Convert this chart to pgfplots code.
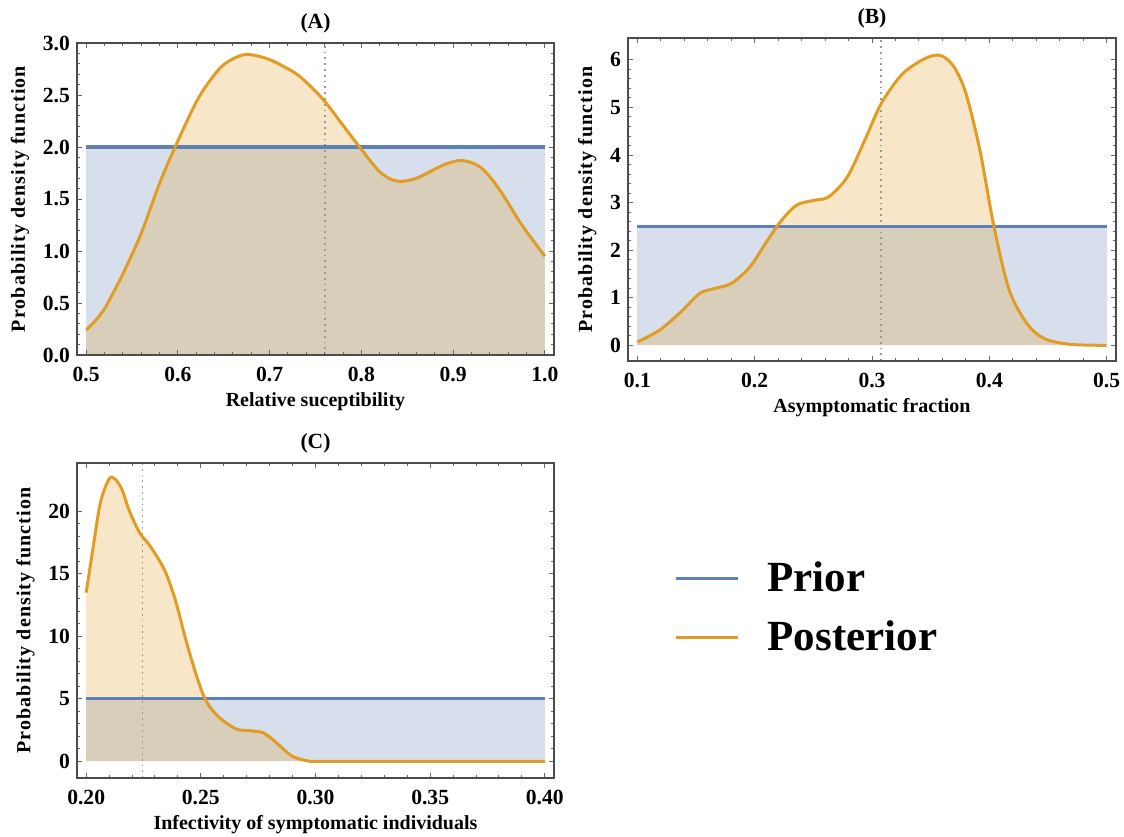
\documentclass[border=0pt]{standalone}
\usepackage{fontspec}
\setmainfont{Liberation Serif}
\newfontfamily\spaced[LetterSpace=5.5]{Liberation Serif}
\usepackage{pgfplots}
\usepackage{pgfplotstable}
\pgfplotsset{compat=1.18}

\definecolor{prior}{RGB}{94,129,181}
\definecolor{post}{RGB}{225,156,36}

\pgfplotsset{
  pdf/.style={
    scale only axis,
    anchor=north west,
    axis on top,
    axis line style={black!70, line width=0.8pt},
    tick align=inside,
    tick style={black!60, line width=0.5pt},
    major tick length=2.6pt,
    minor tick length=1.5pt,
    minor x tick num=4, minor y tick num=4,
    /pgf/number format/assume math mode=true,
    ticklabel style={font=\fontsize{10.8}{12}\selectfont\bfseries},
    xticklabel style={yshift=-2.5pt},
    xlabel style={font=\fontsize{10}{12}\selectfont\bfseries, yshift=1.5pt},
    ylabel style={font=\fontsize{10}{12}\selectfont\spaced\bfseries},
    title style={font=\fontsize{10.8}{12}\selectfont\bfseries, at={(0.5,1)}, anchor=south, yshift=-4.8pt},
    ylabel={Probability density function},
  },
  priorfill/.style={draw=none, fill=prior, fill opacity=0.25, forget plot},
  postfill/.style={draw=none, fill=post, fill opacity=0.25, smooth, forget plot},
  priorline/.style={prior, line width=1.6pt, forget plot},
  postline/.style={post, line width=1.5pt, smooth, forget plot},
  median/.style={black!40, dotted, line width=0.9pt, forget plot},
}

% posterior densities
\pgfplotstableread{
x y
0.500 0.24
0.510 0.33
0.521 0.46
0.540 0.78
0.560 1.17
0.580 1.65
0.600 2.06
0.623 2.48
0.646 2.76
0.663 2.86
0.677 2.89
0.700 2.84
0.728 2.71
0.745 2.58
0.760 2.44
0.779 2.22
0.798 2.00
0.818 1.78
0.832 1.69
0.845 1.67
0.860 1.70
0.872 1.75
0.890 1.83
0.907 1.87
0.920 1.85
0.932 1.79
0.945 1.66
0.958 1.49
0.975 1.25
1.000 0.95
}\postA

\pgfplotstableread{
x y
0.100 0.07
0.119 0.32
0.137 0.70
0.153 1.09
0.165 1.19
0.180 1.30
0.196 1.65
0.211 2.21
0.223 2.63
0.236 2.95
0.251 3.05
0.263 3.12
0.279 3.54
0.294 4.32
0.308 5.09
0.325 5.68
0.340 5.96
0.352 6.09
0.360 6.08
0.370 5.85
0.380 5.30
0.392 4.10
0.404 2.49
0.417 1.16
0.432 0.46
0.447 0.14
0.469 0.02
0.500 0.00
}\postB

\pgfplotstableread{
x y
0.2000 13.5
0.2031 17.2
0.2062 20.7
0.2100 22.6
0.2125 22.6
0.2155 21.8
0.2187 20.1
0.2233 18.3
0.2280 17.2
0.2342 15.3
0.2389 12.9
0.2435 9.7
0.2482 6.8
0.2521 4.9
0.2575 3.6
0.2653 2.6
0.2720 2.45
0.2770 2.3
0.2810 1.8
0.2850 1.15
0.2900 0.4
0.2963 0.05
0.3026 0.0
0.3500 0.0
0.4000 0.0
}\postC

\begin{document}
\begin{tikzpicture}
\useasboundingbox (0,0) rectangle (562pt,-418pt);

% (A)
\begin{axis}[pdf, at={(38.5pt,-21.5pt)}, width=238.5pt, height=156pt,
  title={(A)}, xlabel={Relative suceptibility},
  xmin=0.49, xmax=1.01, ymin=0, ymax=3,
  xtick={0.5,0.6,0.7,0.8,0.9,1.0}, ytick={0,0.5,1,1.5,2,2.5,3},
  xticklabel style={/pgf/number format/.cd, fixed, fixed zerofill, precision=1},
  yticklabel style={/pgf/number format/.cd, fixed, fixed zerofill, precision=1}]
\addplot[priorfill] coordinates {(0.5,2)(1.0,2)} \closedcycle;
\addplot[postfill] table {\postA} \closedcycle;
\addplot[median] coordinates {(0.76,0)(0.76,3)};
\addplot[priorline] coordinates {(0.5,2)(1.0,2)};
\addplot[postline] table {\postA};
\end{axis}

% (B)
\begin{axis}[pdf, at={(314pt,-19pt)}, width=244pt, height=161.5pt,
  title={(B)}, xlabel={Asymptomatic fraction},
  xmin=0.092, xmax=0.508, ymin=-0.33, ymax=6.46,
  xtick={0.1,0.2,0.3,0.4,0.5}, ytick={0,1,2,3,4,5,6},
  xticklabel style={/pgf/number format/.cd, fixed, fixed zerofill, precision=1}]
\addplot[priorfill] coordinates {(0.1,2.5)(0.5,2.5)} \closedcycle;
\addplot[postfill] table {\postB} \closedcycle;
\addplot[median] coordinates {(0.308,-0.33)(0.308,6.46)};
\addplot[priorline] coordinates {(0.1,2.5)(0.5,2.5)};
\addplot[postline] table {\postB};
\end{axis}

% (C)
\begin{axis}[pdf, at={(38.5pt,-231.5pt)}, width=238.5pt, height=157.5pt,
  title={(C)}, xlabel={Infectivity of symptomatic individuals},
  xmin=0.196, xmax=0.404, ymin=-1.33, ymax=23.87,
  xtick={0.20,0.25,0.30,0.35,0.40}, ytick={0,5,10,15,20},
  xticklabel style={/pgf/number format/.cd, fixed, fixed zerofill, precision=2},
  legend style={at={(1.239,0.54)}, anchor=west, draw=none, fill=none,
    font=\fontsize{21.5}{24}\selectfont\bfseries, row sep=9pt,
    /tikz/every odd column/.style={column sep=12pt}},
  legend cell align=left,
  legend image code/.code={\draw[#1] (0pt,0pt) -- (31pt,0pt);}]
\addplot[priorfill] coordinates {(0.2,5)(0.4,5)} \closedcycle;
\addplot[postfill] table {\postC} \closedcycle;
\addplot[median] coordinates {(0.2246,-1.33)(0.2246,23.87)};
\addplot[priorline] coordinates {(0.2,5)(0.4,5)};
\addplot[postline] table {\postC};
\addlegendimage{prior, line width=1.6pt}
\addlegendentry{Prior}
\addlegendimage{post, line width=1.6pt}
\addlegendentry{Posterior}
\end{axis}
\end{tikzpicture}
\end{document}
